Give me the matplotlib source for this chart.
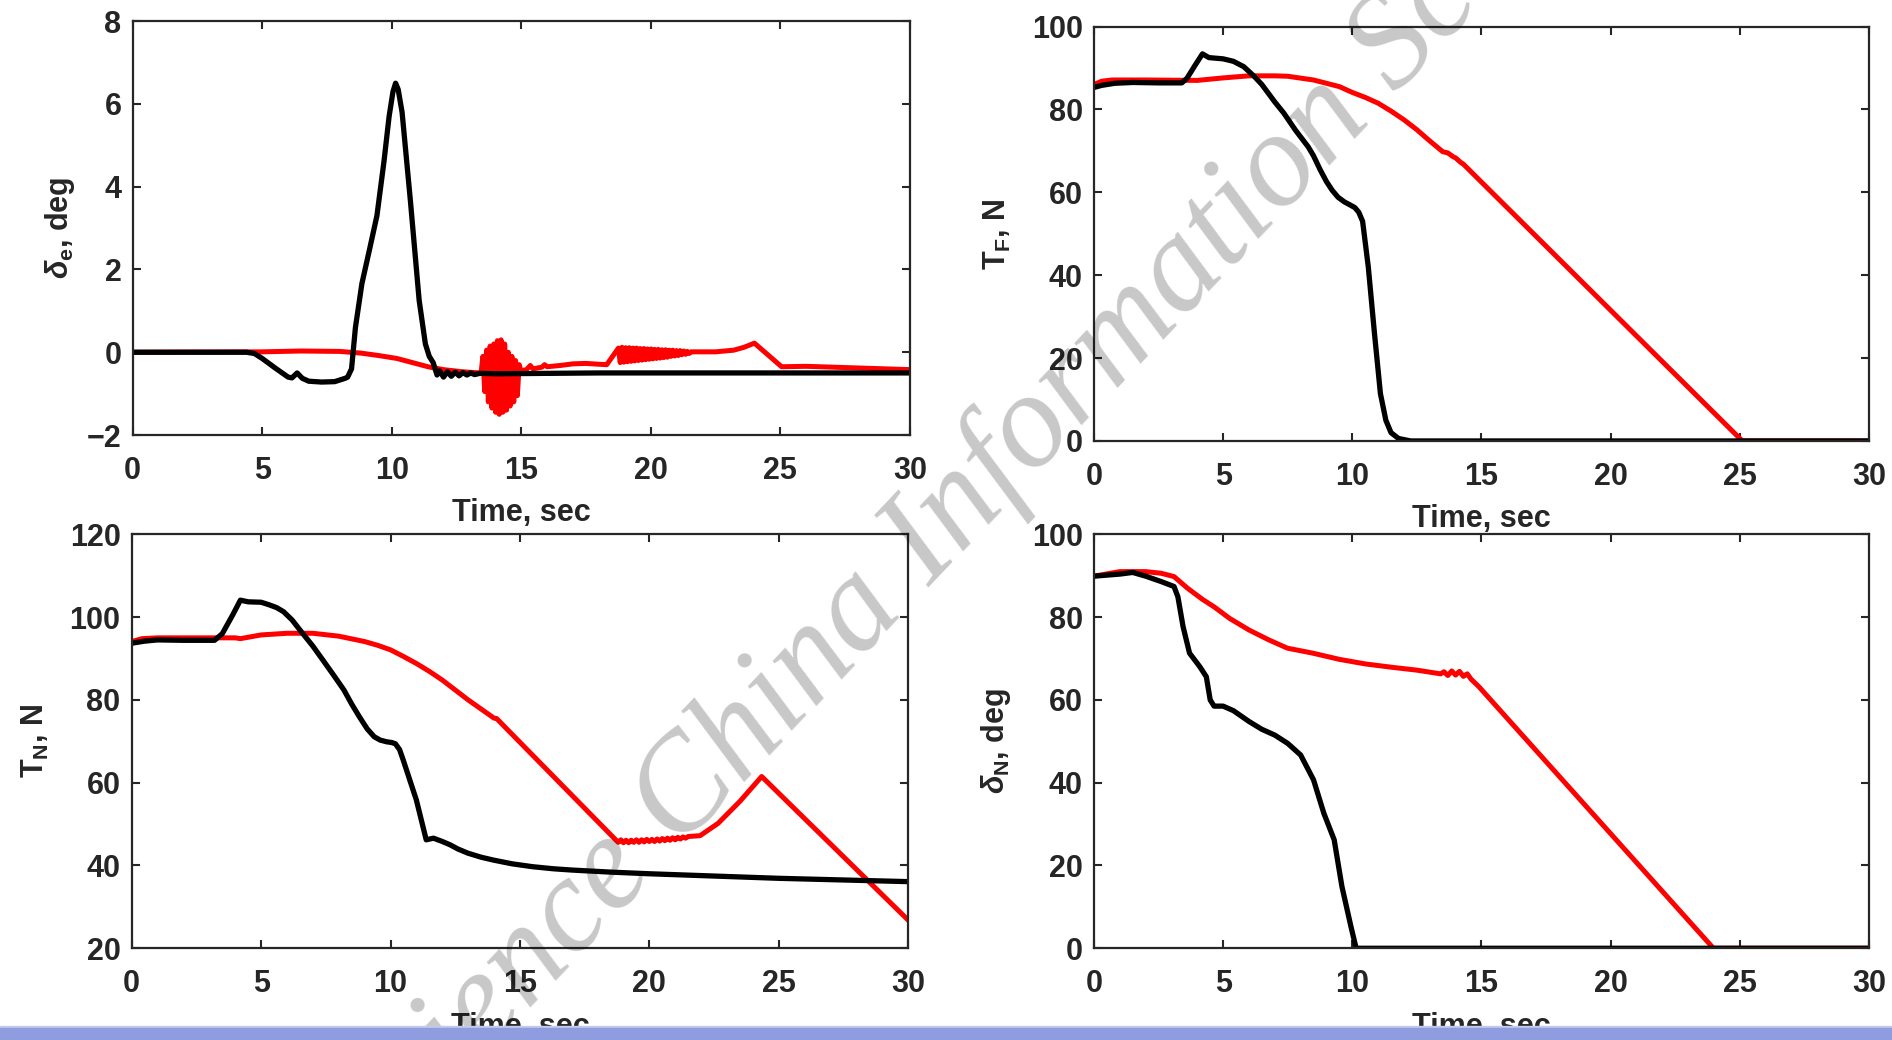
# -*- coding: utf-8 -*-

import matplotlib
matplotlib.use('Agg')
import matplotlib.pyplot as plt
from matplotlib.patches import Rectangle

plt.rcParams['font.family'] = ['Liberation Sans', 'DejaVu Sans']
plt.rcParams['font.weight'] = 'bold'
plt.rcParams['mathtext.fontset'] = 'custom'
plt.rcParams['mathtext.rm'] = 'Liberation Sans:bold'
plt.rcParams['mathtext.bf'] = 'Liberation Sans:bold'
plt.rcParams['mathtext.it'] = 'Liberation Sans:italic'

# ---- delta_e (top left) ----
de_t_blk = [0, 4.4, 4.7, 5.0, 5.5, 6.0, 6.15, 6.35, 6.55, 6.8, 7.3, 7.8, 8.2, 8.3,
            8.45, 8.6, 8.85, 9.15, 9.43, 9.7, 9.9, 10.05, 10.15, 10.25, 10.4, 10.72,
            11.06, 11.3, 11.45, 11.6, 11.75, 11.85, 12.0, 12.15, 12.3, 12.45, 12.6,
            12.75, 12.9, 13.05, 13.2, 13.4, 14.0, 18.0, 30.0]
de_v_blk = [0, 0, -0.03, -0.15, -0.38, -0.6, -0.62, -0.5, -0.63, -0.7, -0.72, -0.71,
            -0.63, -0.6, -0.4, 0.6, 1.66, 2.5, 3.3, 4.6, 5.7, 6.3, 6.5, 6.35, 5.8, 3.67,
            1.25, 0.2, -0.1, -0.25, -0.55, -0.45, -0.6, -0.47, -0.58, -0.48, -0.57,
            -0.49, -0.55, -0.5, -0.54, -0.51, -0.52, -0.5, -0.5]

de_t_red = [0, 5.0, 6.5, 8.0, 8.8, 9.5, 10.2, 10.8, 11.4, 12.0, 12.7, 13.4,
            13.45, 13.52, 13.59, 13.66, 13.73, 13.80, 13.87, 13.94, 14.01, 14.08,
            14.15, 14.22, 14.29, 14.36, 14.43, 14.50, 14.57, 14.64, 14.71, 14.78,
            14.85, 14.92, 14.99,
            15.2, 15.35, 15.45, 15.8, 15.9, 16.0, 16.5, 17.0, 17.5, 18.0, 18.3,
            18.75, 18.82, 18.89, 18.96, 19.03, 19.10, 19.17, 19.24, 19.31, 19.38,
            19.45, 19.52, 19.59, 19.66, 19.73, 19.80, 19.87, 19.94, 20.01, 20.08,
            20.15, 20.22, 20.29, 20.36, 20.43, 20.50, 20.57, 20.64, 20.71, 20.78,
            20.85, 20.92, 20.99, 21.06, 21.13, 21.20, 21.27, 21.34, 21.41, 21.48,
            21.55, 22.5, 23.2, 23.6, 24.0, 25.05, 26.0, 28.0, 30.0]
de_v_red = [0, 0.01, 0.03, 0.02, -0.02, -0.08, -0.15, -0.25, -0.35, -0.42, -0.47, -0.5,
            -0.5, -0.1, -0.95, 0.05, -1.2, 0.15, -1.35, 0.2, -1.45, 0.28,
            -1.5, 0.3, -1.45, 0.2, -1.4, 0.0, -1.3, -0.1, -1.2, -0.2,
            -1.05, -0.3, -0.45,
            -0.42, -0.32, -0.4, -0.36, -0.3, -0.35, -0.32, -0.28, -0.27, -0.29, -0.3,
            0.1, -0.25, 0.12, -0.24, 0.11, -0.23, 0.11, -0.22, 0.1, -0.21,
            0.1, -0.2, 0.09, -0.19, 0.09, -0.18, 0.08, -0.17, 0.08, -0.16,
            0.07, -0.15, 0.07, -0.14, 0.06, -0.13, 0.06, -0.12, 0.05, -0.1,
            0.05, -0.09, 0.04, -0.08, 0.04, -0.06, 0.03, -0.05, 0.02, -0.03,
            0.01, 0.01, 0.05, 0.12, 0.22, -0.35, -0.34, -0.38, -0.42]

# ---- T_F (top right) ----
tf_t_blk = [0, 0.3, 0.8, 1.5, 2.5, 3.4, 3.6, 3.9, 4.2, 4.45, 5.0, 5.4, 5.8, 6.2, 6.5,
            7.0, 7.35, 7.8, 8.29, 8.5, 8.76, 9.0, 9.22, 9.45, 9.69, 9.9, 10.1, 10.25,
            10.4, 10.62, 10.86, 11.09, 11.3, 11.5, 11.79, 12.26, 30.0]
tf_v_blk = [85.3, 85.8, 86.3, 86.5, 86.4, 86.4, 87.5, 90.5, 93.4, 92.5, 92.2, 91.6,
            90.3, 88.0, 86.0, 81.8, 79.1, 75.0, 71.0, 68.8, 65.4, 62.6, 60.5, 58.8,
            57.7, 57.0, 56.3, 55.2, 53.0, 42.0, 25.9, 11.4, 5.0, 2.0, 0.6, 0.0, 0.0]

tf_t_red = [0, 0.3, 0.7, 2.0, 4.0, 5.0, 6.0, 7.0, 7.5, 8.5, 9.5, 10.0, 10.5, 11.0,
            11.5, 12.0, 12.5, 12.96, 13.5, 13.7, 13.9, 14.0, 14.2, 14.3, 25.1, 30.0]
tf_v_red = [86.0, 86.8, 87.1, 87.1, 87.0, 87.6, 88.1, 88.1, 88.0, 87.1, 85.5, 84.1,
            82.9, 81.5, 79.6, 77.5, 75.1, 72.6, 69.8, 69.5, 68.6, 68.3, 67.2, 66.8,
            0.0, 0.0]

# ---- T_N (bottom left) ----
tn_t_blk = [0, 0.5, 1.0, 2.0, 3.2, 3.5, 3.9, 4.2, 4.5, 5.0, 5.3, 5.6, 5.87, 6.2, 6.5,
            7.0, 7.39, 7.8, 8.2, 8.5, 8.79, 9.1, 9.37, 9.6, 9.84, 10.05, 10.19, 10.35,
            10.49, 11.0, 11.38, 11.66, 12.0, 12.3, 12.6, 12.98, 13.5, 13.98, 14.7,
            15.5, 16.3, 17.0, 18.5, 20.0, 25.0, 30.0]
tn_v_blk = [93.7, 94.2, 94.5, 94.4, 94.4, 96.0, 100.5, 104.1, 103.7, 103.6, 103.0,
            102.3, 101.3, 99.3, 96.9, 93.0, 89.6, 86.0, 82.4, 79.0, 76.0, 73.0, 71.1,
            70.3, 69.9, 69.7, 69.4, 68.0, 65.5, 55.8, 46.2, 46.6, 45.8, 45.0, 44.0,
            43.0, 42.0, 41.3, 40.4, 39.7, 39.2, 38.9, 38.4, 38.0, 36.9, 36.1]

tn_t_red = [0, 0.4, 1.0, 3.0, 4.0, 4.2, 5.0, 6.0, 7.0, 8.0, 9.0, 9.5, 10.0, 10.5,
            11.0, 11.5, 12.0, 12.5, 13.0, 13.5, 14.0, 14.1, 18.7,
            18.8, 18.9, 19.0, 19.1, 19.2, 19.3, 19.4, 19.5, 19.6, 19.7, 19.8, 19.9,
            20.0, 20.1, 20.2, 20.3, 20.4, 20.5, 20.6, 20.7, 20.8, 20.9, 21.0, 21.1,
            21.2, 21.3, 21.4, 21.5, 21.96, 22.66, 23.5, 24.34, 30.0]
tn_v_red = [94.1, 94.8, 95.0, 95.0, 95.0, 94.8, 95.7, 96.1, 96.1, 95.4, 94.1, 93.2,
            92.1, 90.5, 88.8, 86.9, 84.8, 82.4, 80.0, 77.8, 75.6, 75.5, 46.2,
            45.6, 46.2, 45.5, 46.1, 45.5, 46.1, 45.6, 46.2, 45.6, 46.2, 45.7, 46.3,
            45.8, 46.3, 45.8, 46.4, 45.9, 46.5, 46.0, 46.6, 46.1, 46.7, 46.2, 46.8,
            46.4, 46.9, 46.6, 47.0, 47.2, 50.2, 55.5, 61.5, 26.8]

# ---- delta_N (bottom right) ----
dn_t_blk = [0, 1.0, 1.5, 2.0, 2.6, 3.1, 3.25, 3.45, 3.7, 4.1, 4.35, 4.5, 4.65, 5.0,
            5.4, 6.0, 6.5, 7.0, 7.5, 8.0, 8.5, 8.9, 9.3, 9.6, 9.95, 10.15, 30.0]
dn_v_blk = [89.9, 90.4, 90.8, 89.9, 88.6, 87.4, 84.9, 77.7, 71.3, 68.0, 65.6, 60.0,
            58.5, 58.5, 57.4, 54.8, 52.9, 51.5, 49.5, 46.7, 40.7, 32.6, 26.2, 14.9, 5.2,
            0.0, 0.0]

dn_t_red = [0, 1.0, 2.0, 2.6, 3.1, 3.62, 4.2, 4.67, 5.25, 6.0, 6.77, 7.49, 8.47, 9.5,
            10.5, 11.51, 12.49, 13.42, 13.55, 13.7, 13.85, 14.0, 14.15, 14.3, 14.45,
            14.6, 14.9, 23.98, 30.0]
dn_v_red = [89.9, 91.0, 91.0, 90.6, 89.8, 87.0, 84.3, 82.4, 79.7, 76.9, 74.5, 72.5,
            71.3, 69.8, 68.7, 67.9, 67.2, 66.3, 66.8, 65.9, 67.0, 66.0, 66.9, 65.7, 66.3,
            65.0, 63.2, 0.0, 0.0]

x_ticks = [0, 5, 10, 15, 20, 25, 30]

panels = [
    # rect, red, black, ylim, yticks, ylabel, ylabel x
    ([0.0701, 0.5817, 0.4108, 0.3980], (de_t_red, de_v_red), (de_t_blk, de_v_blk),
     (-2, 8), [-2, 0, 2, 4, 6, 8], r'$\delta_{\mathbf{e}}$, deg', -0.0935),
    ([0.5782, 0.5760, 0.4096, 0.3985], (tf_t_red, tf_v_red), (tf_t_blk, tf_v_blk),
     (0, 100), [0, 20, 40, 60, 80, 100], r'T$_{\mathbf{F}}$, N', -0.125),
    ([0.0696, 0.0882, 0.4104, 0.3980], (tn_t_red, tn_v_red), (tn_t_blk, tn_v_blk),
     (20, 120), [20, 40, 60, 80, 100, 120], r'T$_{\mathbf{N}}$, N', -0.124),
    ([0.5782, 0.0882, 0.4096, 0.3980], (dn_t_red, dn_v_red), (dn_t_blk, dn_v_blk),
     (0, 100), [0, 20, 40, 60, 80, 100], r'$\delta_{\mathbf{N}}$, deg', -0.126),
]

fig = plt.figure(figsize=(18.92, 10.4), dpi=100)
dark = '#262626'

for rect, red, blk, ylim, yticks, ylab, ylx in panels:
    ax = fig.add_axes(rect)
    ax.plot(red[0], red[1], color='#ff0000', lw=3.6, solid_joinstyle='round')
    ax.plot(blk[0], blk[1], color='black', lw=3.8, solid_joinstyle='round')
    ax.set_xlim(0, 30)
    ax.set_ylim(*ylim)
    ax.set_xticks(x_ticks)
    ax.set_yticks(yticks)
    for s in ax.spines.values():
        s.set_linewidth(1.6)
        s.set_color(dark)
    ax.tick_params(direction='in', length=6, width=1.5, top=True, right=True,
                   labelsize=22, colors=dark)
    ax.tick_params(axis='x', pad=15)
    ax.tick_params(axis='y', pad=8)
    ax.set_xlabel('Time, sec', fontsize=22, fontweight='bold', color=dark, va='top')
    ax.xaxis.set_label_coords(0.5, -0.153)
    ax.set_ylabel(ylab, fontsize=22, fontweight='bold', color=dark, va='center')
    ax.yaxis.set_label_coords(ylx, 0.5)

# watermark
fig.text(0.539, 0.574, 'Science China Information Sciences', fontsize=97,
         family='Liberation Serif', style='italic', fontweight='normal',
         color='black', alpha=0.22, rotation=46.5, ha='center', va='center',
         rotation_mode='anchor', zorder=20)

# blue strip at the bottom
fig.patches.append(Rectangle((0, 12 / 1040), 1, 2 / 1040, transform=fig.transFigure,
                             color='#c3cbeb', zorder=30))
fig.patches.append(Rectangle((0, 0), 1, 12 / 1040, transform=fig.transFigure,
                             color='#8d9de0', zorder=30))

fig.savefig('out.png', dpi=100)
